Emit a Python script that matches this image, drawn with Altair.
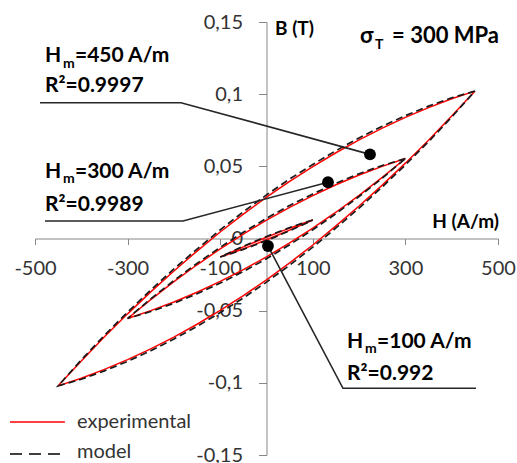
import altair as alt
import pandas as pd

# ---------------- data ----------------
H450 = [450, 400, 350, 300, 250, 200, 150, 100, 50, 0, -50, -100, -150, -200, -250, -300, -350, -400, -450]
B450_exp_down = [0.1021, 0.0968, 0.0907, 0.0839, 0.0765, 0.0683, 0.0594, 0.0498, 0.0396, 0.0286, 0.0169, 0.0045,
                 -0.0087, -0.0225, -0.0370, -0.0522, -0.0681, -0.0848, -0.1021]
B450_exp_up = [-0.1021, -0.0968, -0.0907, -0.0839, -0.0765, -0.0683, -0.0594, -0.0498, -0.0396, -0.0286, -0.0169,
               -0.0045, 0.0087, 0.0225, 0.0370, 0.0522, 0.0681, 0.0848, 0.1021]
B450_mod_down = [0.1021, 0.0975, 0.0917, 0.0851, 0.0778, 0.0697, 0.0609, 0.0513, 0.0412, 0.0302, 0.0185, 0.0060,
                 -0.0073, -0.0211, -0.0357, -0.0510, -0.0671, -0.0841, -0.1021]
B450_mod_up = [-0.1021, -0.0975, -0.0917, -0.0851, -0.0778, -0.0697, -0.0609, -0.0513, -0.0412, -0.0302, -0.0185,
               -0.0060, 0.0073, 0.0211, 0.0357, 0.0510, 0.0671, 0.0841, 0.1021]

H300 = [300, 250, 200, 150, 100, 50, 0, -50, -100, -150, -200, -250, -300]
B300_exp_down = [0.0554, 0.0500, 0.0440, 0.0372, 0.0297, 0.0216, 0.0127, 0.0031, -0.0072, -0.0182, -0.0299, -0.0423, -0.0554]
B300_exp_up = [-0.0554, -0.0500, -0.0440, -0.0372, -0.0297, -0.0216, -0.0127, -0.0031, 0.0072, 0.0182, 0.0299, 0.0423, 0.0554]
B300_mod_down = [0.0554, 0.0506, 0.0449, 0.0383, 0.0309, 0.0229, 0.0140, 0.0043, -0.0061, -0.0172, -0.0291, -0.0418, -0.0554]
B300_mod_up = [-0.0554, -0.0506, -0.0449, -0.0383, -0.0309, -0.0229, -0.0140, -0.0043, 0.0061, 0.0172, 0.0291, 0.0418, 0.0554]

H100 = [100, 75, 50, 25, 0, -25, -50, -75, -100]
B100_exp_down = [0.0128, 0.0101, 0.0072, 0.0041, 0.0009, -0.0024, -0.0058, -0.0093, -0.0128]
B100_exp_up = [-0.0128, -0.0101, -0.0072, -0.0041, -0.0009, 0.0024, 0.0058, 0.0093, 0.0128]
B100_mod_down = [0.0128, 0.0103, 0.0075, 0.0045, 0.0014, -0.0019, -0.0054, -0.0090, -0.0128]
B100_mod_up = [-0.0128, -0.0103, -0.0075, -0.0045, -0.0014, 0.0019, 0.0054, 0.0090, 0.0128]

X_TICKS = [-500, -300, -100, 100, 300, 500]
Y_TICKS = [-0.15, -0.1, -0.05, 0, 0.05, 0.1, 0.15]

# marker dots of the annotations (H, B)
DOT_H = [223.5, 132.8, 3.2]
DOT_B = [0.0583, 0.0390, -0.0052]

# leader lines (H, B)
L450_H = [-489.2, -184.7, 223.5]
L450_B = [0.0941, 0.0941, 0.0583]
L300_H = [-478.4, -180.3, 132.8]
L300_B = [0.0121, 0.0121, 0.0390]
L100_H = [452.5, 165.2, 3.2]
L100_B = [-0.1038, -0.1038, -0.0052]

# ---------------- tables ----------------
def loop_rows(name, series, H, down, up):
    rows = []
    Hup = H[::-1]
    for i, (h, b) in enumerate(zip(H, down)):
        rows.append(dict(loop=name, series=series, idx=i, H=h, B=b))
    for j, (h, b) in enumerate(zip(Hup, up)):
        rows.append(dict(loop=name, series=series, idx=len(H) + j, H=h, B=b))
    return rows

exp_rows = (loop_rows("450", "experimental", H450, B450_exp_down, B450_exp_up)
            + loop_rows("300", "experimental", H300, B300_exp_down, B300_exp_up)
            + loop_rows("100", "experimental", H100, B100_exp_down, B100_exp_up))
mod_rows = (loop_rows("450", "model", H450, B450_mod_down, B450_mod_up)
            + loop_rows("300", "model", H300, B300_mod_down, B300_mod_up)
            + loop_rows("100", "model", H100, B100_mod_down, B100_mod_up))
df_exp = pd.DataFrame(exp_rows)
df_mod = pd.DataFrame(mod_rows)

lead_rows = []
for nm, hs, bs in [("450", L450_H, L450_B), ("300", L300_H, L300_B), ("100", L100_H, L100_B)]:
    for i, (h, b) in enumerate(zip(hs, bs)):
        lead_rows.append(dict(id=nm, idx=i, H=h, B=b))
df_lead = pd.DataFrame(lead_rows)
df_dots = pd.DataFrame(dict(H=DOT_H, B=DOT_B))

# texts: left aligned bold
df_txt = pd.DataFrame([
    dict(H=-478.4, B=0.12655, text="H", fs=21),
    dict(H=-413.6, B=0.12655, text="=450 A/m", fs=21),
    dict(H=-478.4, B=0.10586, text="R²=0.9997", fs=21),
    dict(H=-478.4, B=0.04621, text="H", fs=21),
    dict(H=-413.6, B=0.04621, text="=300 A/m", fs=21),
    dict(H=-478.4, B=0.02345, text="R²=0.9989", fs=21),
    dict(H=173.9, B=-0.07172, text="H", fs=21),
    dict(H=238.7, B=-0.07172, text="=100 A/m", fs=21),
    dict(H=173.9, B=-0.09379, text="R²=0.992", fs=21),
    dict(H=201.9, B=0.1403, text="σ", fs=22),
    dict(H=18.4, B=0.1452, text="B (T)", fs=19),
])
df_sub = pd.DataFrame([
    dict(H=-439.5, B=0.12103, text="m"),
    dict(H=-439.5, B=0.04103, text="m"),
    dict(H=212.7, B=-0.07690, text="m"),
    dict(H=234.3, B=0.1341, text="T"),
])
df_right = pd.DataFrame([
    dict(H=502.2, B=0.01138, text="H (A/m)", fs=19),
    dict(H=502.2, B=0.1403, text="= 300 MPa", fs=22),
])
df_leg_txt = pd.DataFrame([
    dict(H=-409.3, B=-0.1272, text="experimental"),
    dict(H=-409.3, B=-0.1479, text="model"),
])
df_leg_exp = pd.DataFrame([dict(H=-554.0, H2=-435.4, B=-0.1272)])
df_leg_mod = pd.DataFrame([dict(H=-554.0, H2=-435.4, B=-0.1493)])

# ---------------- encodings ----------------
xs = alt.Scale(domain=[-500, 500], nice=False, zero=False)
ys = alt.Scale(domain=[-0.15, 0.15], nice=False, zero=False)

x_axis = alt.Axis(values=X_TICKS, offset=-216.5, grid=False, title=None,
                  domainColor="#868686", tickColor="#868686", tickSize=6,
                  labelFont="Lato", labelFontSize=20, labelColor="#333333",
                  labelPadding=14, labelFlush=False, labelOverlap=False,
                  labelExpr="toString(datum.value)")
y_axis = alt.Axis(values=Y_TICKS, offset=-231.5, grid=False, title=None,
                  domainColor="#868686", tickColor="#868686", tickSize=8,
                  labelFont="Lato", labelFontSize=20, labelColor="#333333",
                  labelPadding=16, labelFlush=False, labelOverlap=False,
                  labelExpr="replace(toString(datum.value), '.', ',')")

X = alt.X("H:Q", scale=xs, axis=x_axis)
Y = alt.Y("B:Q", scale=ys, axis=y_axis)

axis_layer = alt.Chart(df_dots).mark_point(opacity=0).encode(x=X, y=Y)
exp_layer = alt.Chart(df_exp).mark_line(color="#ff0000", strokeWidth=1.5).encode(
    x=X, y=Y, detail="loop:N", order="idx:Q")
mod_layer = alt.Chart(df_mod).mark_line(color="#1a1a1a", strokeWidth=1.7, strokeDash=[7, 4]).encode(
    x=X, y=Y, detail="loop:N", order="idx:Q")
lead_layer = alt.Chart(df_lead).mark_line(color="#262626", strokeWidth=1.6).encode(
    x=X, y=Y, detail="id:N", order="idx:Q")
dot_layer = alt.Chart(df_dots).mark_circle(color="#000000", size=140, opacity=1).encode(x=X, y=Y)

txt_layer = alt.Chart(df_txt).mark_text(align="left", baseline="middle", font="Lato",
                                        fontWeight="bold", color="#000000").encode(
    x=X, y=Y, text="text:N", size=alt.Size("fs:Q", scale=None))
sub_layer = alt.Chart(df_sub).mark_text(align="left", baseline="middle", font="Lato",
                                        fontWeight="bold", color="#000000", fontSize=14).encode(
    x=X, y=Y, text="text:N")
right_layer = alt.Chart(df_right).mark_text(align="right", baseline="middle", font="Lato",
                                            fontWeight="bold", color="#000000").encode(
    x=X, y=Y, text="text:N", size=alt.Size("fs:Q", scale=None))
leg_txt_layer = alt.Chart(df_leg_txt).mark_text(align="left", baseline="middle", font="Lato",
                                                fontSize=20, color="#333333").encode(
    x=X, y=Y, text="text:N")
leg_exp_layer = alt.Chart(df_leg_exp).mark_rule(color="#ff0000", strokeWidth=1.5).encode(
    x=X, x2="H2:Q", y=Y)
leg_mod_layer = alt.Chart(df_leg_mod).mark_rule(color="#000000", strokeWidth=1.6, strokeDash=[12, 7]).encode(
    x=X, x2="H2:Q", y=Y)

chart = alt.layer(
    axis_layer, exp_layer, mod_layer, lead_layer, dot_layer, txt_layer, sub_layer, right_layer,
    leg_txt_layer, leg_exp_layer, leg_mod_layer
).properties(
    width=463, height=433,
    autosize=alt.AutoSizeParams(type="none"),
    padding={"left": 35, "top": 22, "right": 19, "bottom": 8},
    background="white",
).configure_view(stroke=None)

chart.save("out.html", embed_options={"renderer": "svg", "actions": False})
